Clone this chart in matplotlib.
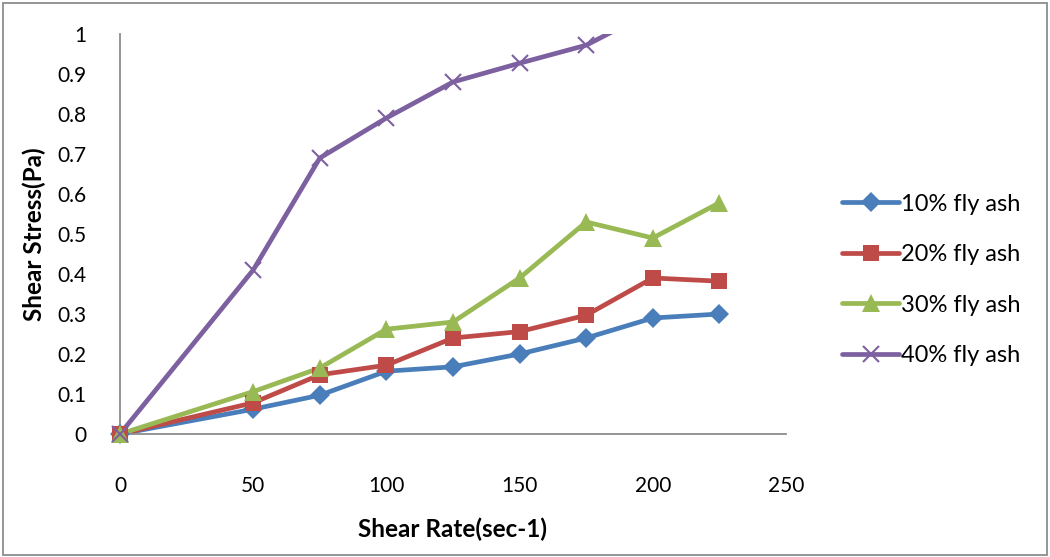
import matplotlib
matplotlib.use("Agg")
import matplotlib.pyplot as plt
import numpy as np
from matplotlib.patches import Rectangle

plt.rcParams['font.family'] = ['Lato', 'DejaVu Sans']

shear_rate = [0, 50, 75, 100, 125, 150, 175, 200, 225]
fly10 = [0, 0.062, 0.097, 0.157, 0.168, 0.200, 0.240, 0.290, 0.300]
fly20 = [0, 0.078, 0.148, 0.172, 0.240, 0.256, 0.297, 0.390, 0.382]
fly30 = [0, 0.106, 0.165, 0.262, 0.280, 0.390, 0.530, 0.490, 0.578]
fly40 = [0, 0.410, 0.690, 0.790, 0.880, 0.927, 0.972, 1.058, 1.120]

labels = ['10% fly ash', '20% fly ash', '30% fly ash', '40% fly ash']
colors = ['#4A7EBB', '#BE4B48', '#98B954', '#7D60A0']
markers = ['D', 's', '^', 'x']
msizes = [10, 12, 13, 12]
series = [fly10, fly20, fly30, fly40]

fig = plt.figure(figsize=(10.5, 5.57), dpi=100)
ax = fig.add_axes([120/1050, 1-434/557, (786-120)/1050, (434-34)/557])

handles = []
for y, c, m, ms, lab in zip(series, colors, markers, msizes, labels):
    x = np.array(shear_rate, dtype=float)
    y = np.array(y, dtype=float)
    ax.plot(x, y, color=c, lw=3.4, solid_capstyle='round', zorder=2)
    keep = y <= 1.0
    mew = 1.5 if m == 'x' else 0
    ax.plot(x[keep], y[keep], ls='none', marker=m, ms=ms, color=c,
            mec=c, mew=mew, clip_on=False, zorder=3)
    h, = ax.plot([], [], color=c, lw=3.4, marker=m, ms=ms, mec=c, mew=mew,
                 solid_capstyle='round', label=lab)
    handles.append(h)

ax.set_xlim(0, 250)
ax.set_ylim(0, 1)
ax.set_xticks([0, 50, 100, 150, 200, 250])
ax.set_yticks(np.arange(0, 1.01, 0.1))
ax.set_yticklabels(['0', '0.1', '0.2', '0.3', '0.4', '0.5', '0.6', '0.7', '0.8', '0.9', '1'])
ax.tick_params(axis='both', length=0, labelsize=15)
ax.tick_params(axis='y', pad=24)
ax.tick_params(axis='x', pad=30)
for s in ['top', 'right']:
    ax.spines[s].set_visible(False)
for s in ['left', 'bottom']:
    ax.spines[s].set_color('#8C8C8C')
    ax.spines[s].set_linewidth(1.3)

ax.set_xlabel('Shear Rate(sec-1)', fontsize=17.5, fontweight='bold', labelpad=16)
ax.set_ylabel('Shear Stress(Pa)', fontsize=17.5, fontweight='bold', labelpad=8)

leg = fig.legend(handles=handles, loc='center left', bbox_to_anchor=(821/1050, 1-280/557),
                 frameon=False, fontsize=17, handlelength=2.4, handletextpad=0.1,
                 labelspacing=1.25)

fig.patches.append(Rectangle((3/1050, 2/557), 1044/1050, 552/557, transform=fig.transFigure,
                             fill=False, edgecolor='#8C8C8C', lw=1.3))

fig.savefig('out.png', dpi=100)
